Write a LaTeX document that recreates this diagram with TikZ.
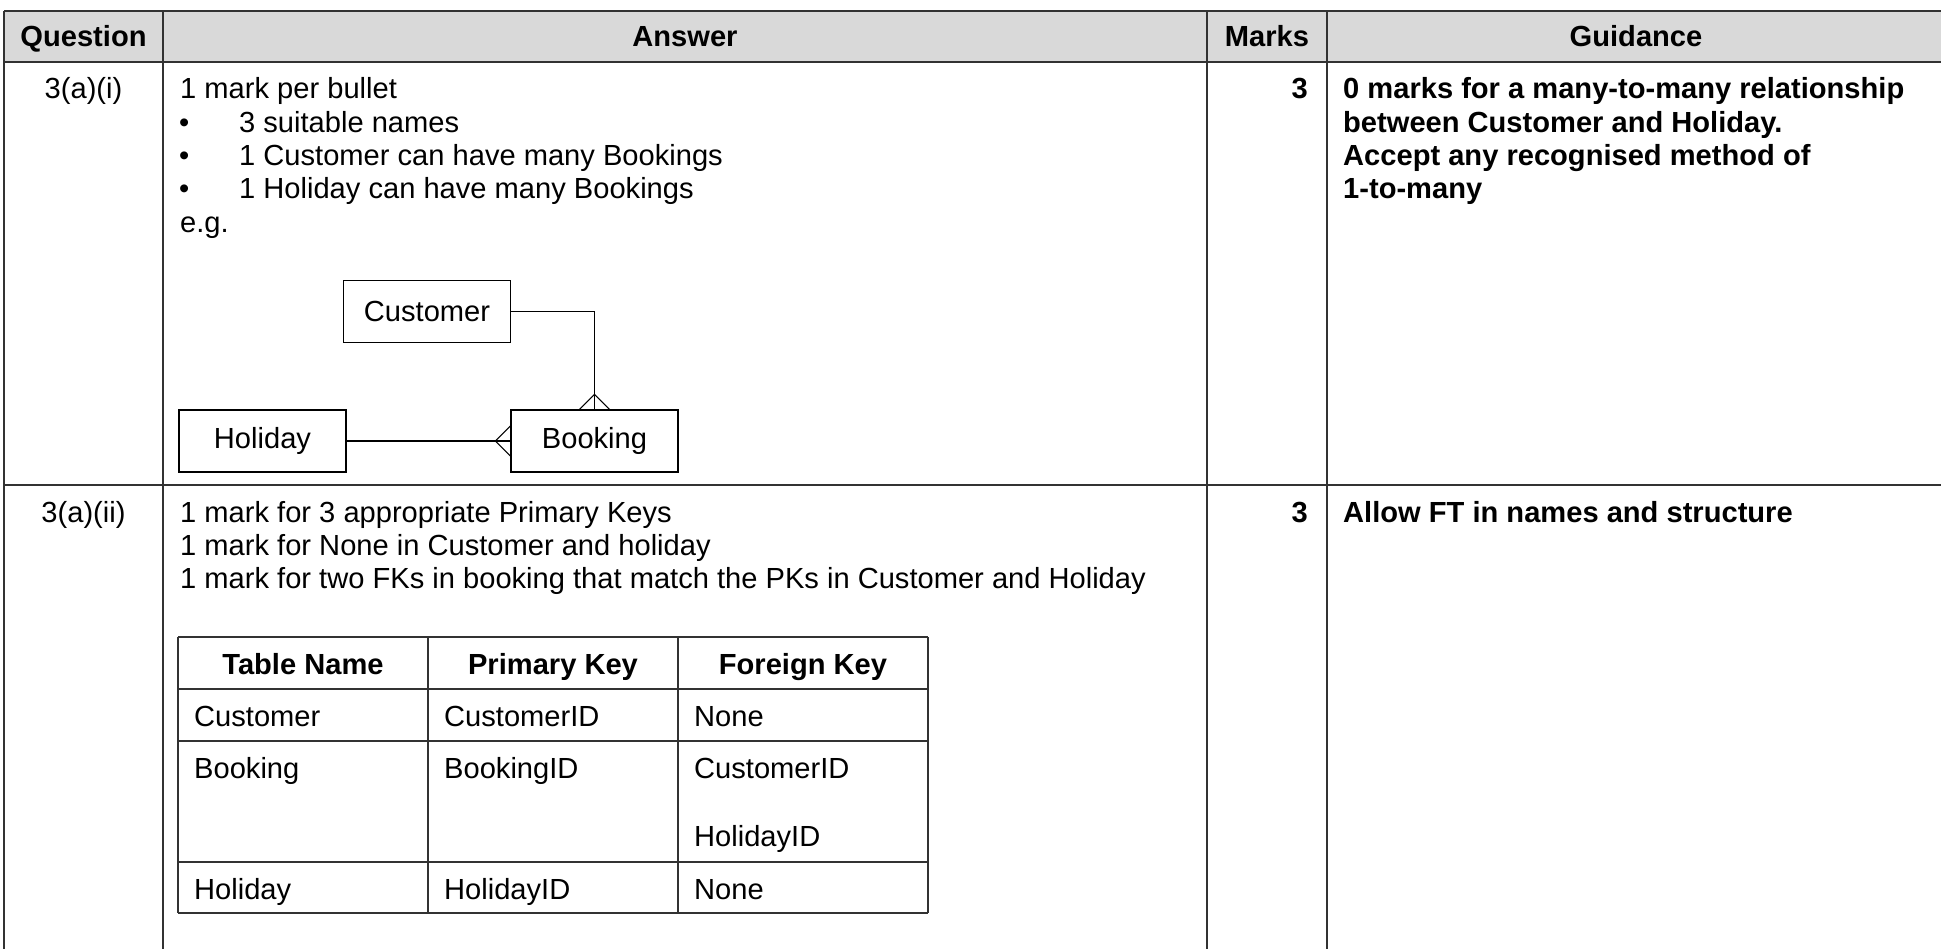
\documentclass[tikz,border=0pt]{standalone}
\usepackage{fontspec}
\setmainfont{Liberation Sans}
\usetikzlibrary{calc}
\newcommand\fsz{\fontsize{29.1}{33.3}\selectfont}
\definecolor{hdrgrey}{RGB}{217,217,217}
\definecolor{linegrey}{RGB}{50,50,50}
\begin{document}
\begin{tikzpicture}[x=1pt,y=-1pt,
  every node/.style={font=\fsz, inner sep=0pt},
  lt/.style={anchor=base west},
  ct/.style={anchor=base},
  rt/.style={anchor=base east},
  bld/.style={font=\fsz\bfseries},
  grid/.style={draw=linegrey, line width=1.5pt},
  igrid/.style={draw=linegrey, line width=1.3pt},
  entity/.style={draw=black, line width=1.1pt, minimum width=167pt, minimum height=62pt, inner sep=0pt, anchor=center},
  rel/.style={draw=black, line width=1.1pt}
]
\useasboundingbox (0,0) rectangle (1941,949);
% main table
\fill[hdrgrey] (4,11) rectangle (1941,62);
\draw[grid] (4,11) -- (1941,11);
\draw[grid, line width=2.2pt] (4,62) -- (1941,62);
\draw[grid] (4,485) -- (1941,485);
\foreach \xx in {4,163,1207,1327} \draw[grid] (\xx,11) -- (\xx,949);
% header
\node[ct,bld] (hq) at (83.5,47) {Question};
\node[ct,bld] (ha) at (685,47) {Answer};
\node[ct,bld] (hm) at (1267,47) {Marks};
\node[ct,bld] (hg) at (1636,47) {Guidance};
% row 1
\node[ct] (q1) at (83.5,99) {3(a)(i)};
\node[lt] (a1l1) at (180,99) {1 mark per bullet};
\node[lt] (b1) at (179,132.3) {•};
\node[lt] (a1l2) at (239,132.3) {3 suitable names};
\node[lt] (b2) at (179,165.6) {•};
\node[lt] (a1l3) at (239,165.6) {1 Customer can have many Bookings};
\node[lt] (b3) at (179,199) {•};
\node[lt] (a1l4) at (239,199) {1 Holiday can have many Bookings};
\node[lt] (a1l5) at (180,232.3) {e.g.};
\node[rt,bld] (m1) at (1308,99) {3};
\node[lt,bld] (g1l1) at (1343,99) {0 marks for a many-to-many relationship};
\node[lt,bld] (g1l2) at (1343,132.3) {between Customer and Holiday.};
\node[lt,bld] (g1l3) at (1343,165.6) {Accept any recognised method of};
\node[lt,bld] (g1l4) at (1343,199) {1-to-many};
% ER diagram
\node[entity] (cust) at (427,311.5) {Customer};
\node[entity] (hol) at (262.5,441) {Holiday};
\node[entity] (book) at (594.5,441) {Booking};
\draw[rel] (cust.east) -| (book.north);
\draw[rel] ($(book.north)+(-15,0)$) -- ($(book.north)+(0,-15)$) -- ($(book.north)+(15,0)$);
\draw[rel] (hol.east) -- (book.west);
\draw[rel] ($(book.west)+(0,-15)$) -- ($(book.west)+(-15,0)$) -- ($(book.west)+(0,15)$);
% row 2
\node[ct] (q2) at (83.5,522) {3(a)(ii)};
\node[lt] (a2l1) at (180,522) {1 mark for 3 appropriate Primary Keys};
\node[lt] (a2l2) at (180,555.3) {1 mark for None in Customer and holiday};
\node[lt] (a2l3) at (180,588.6) {1 mark for two FKs in booking that match the PKs in Customer and Holiday};
\node[rt,bld] (m2) at (1308,522) {3};
\node[lt,bld] (g2) at (1343,522) {Allow FT in names and structure};
% inner table
\foreach \xx in {178,428,678,928} \draw[igrid] (\xx,637) -- (\xx,913);
\foreach \yy in {637,689,741,862,913} \draw[igrid] (178,\yy) -- (928,\yy);
\node[ct,bld] (th1) at (303,674) {Table Name};
\node[ct,bld] (th2) at (553,674) {Primary Key};
\node[ct,bld] (th3) at (803,674) {Foreign Key};
\node[lt] (t11) at (194,726) {Customer};
\node[lt] (t12) at (444,726) {CustomerID};
\node[lt] (t13) at (694,726) {None};
\node[lt] (t21) at (194,778) {Booking};
\node[lt] (t22) at (444,778) {BookingID};
\node[lt] (t23) at (694,778) {CustomerID};
\node[lt] (t24) at (694,846) {HolidayID};
\node[lt] (t31) at (194,899) {Holiday};
\node[lt] (t32) at (444,899) {HolidayID};
\node[lt] (t33) at (694,899) {None};
\end{tikzpicture}
\end{document}
